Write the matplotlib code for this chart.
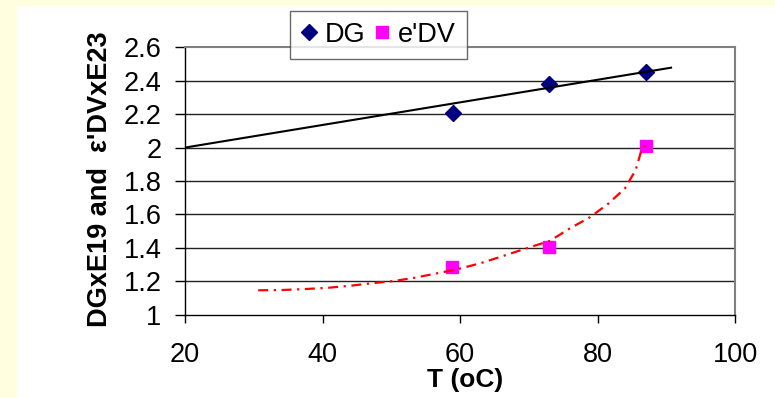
import matplotlib
matplotlib.use("Agg")
import matplotlib.pyplot as plt
from matplotlib.patches import Rectangle

# ---- data ----
T_dg = [59.0, 73.0, 87.1]
DG = [2.205, 2.382, 2.454]
T_edv = [58.8, 72.9, 87.0]
EDV = [1.287, 1.407, 2.01]

# trend lines as traced on the picture
trend_dg_T = [20.0, 90.7]
trend_dg_v = [2.0, 2.478]
trend_edv_T = [30.65, 34.3, 37.7, 40.8, 44.0, 47.1, 50.3, 53.4, 56.6, 59.5,
               62.9, 65.5, 70.4, 73.05, 76.0, 78.9, 81.5, 84.0, 85.55, 86.4, 86.9]
trend_edv_v = [1.146, 1.148, 1.154, 1.161, 1.173, 1.188, 1.201, 1.221, 1.247, 1.271,
               1.307, 1.341, 1.407, 1.441, 1.517, 1.583, 1.662, 1.756, 1.866, 1.985, 2.01]

x_ticks = [20, 40, 60, 80, 100]
x_labels = ["20", "40", "60", "80", "100"]
y_ticks = [1.0, 1.2, 1.4, 1.6, 1.8, 2.0, 2.2, 2.4, 2.6]
y_labels = ["1", "1.2", "1.4", "1.6", "1.8", "2", "2.2", "2.4", "2.6"]

plt.rcParams['font.family'] = ['Liberation Sans', 'DejaVu Sans']

W, H = 775, 398
fig = plt.figure(figsize=(W / 100, H / 100), dpi=100)
fig.patch.set_facecolor('white')
# light-yellow frame strips (left and top)
fig.add_artist(Rectangle((0, 0), 17 / W, 1, transform=fig.transFigure,
                         facecolor='#FFFFE0', edgecolor='none', zorder=0))
fig.add_artist(Rectangle((0, 1 - 6 / H), 1, 6 / H, transform=fig.transFigure,
                         facecolor='#FFFFE0', edgecolor='none', zorder=0))

ax = fig.add_axes([185 / W, 1 - 314.7 / H, (735 - 185) / W, (314.7 - 47.3) / H])
ax.set_facecolor('white')
ax.set_xlim(20, 100)
ax.set_ylim(1.0, 2.6)

for yv in y_ticks[1:-1]:
    ax.axhline(yv, color='#222222', lw=1.0, zorder=1)

ax.plot(T_dg, DG, linestyle='none', marker='D', markersize=8.5,
        color='#000080', label='DG', zorder=2)
ax.plot(T_edv, EDV, linestyle='none', marker='s', markersize=9,
        color='#FF00FF', label="e'DV", zorder=2)

ax.plot(trend_dg_T, trend_dg_v, color='black', lw=1.5, zorder=3)
ln, = ax.plot(trend_edv_T, trend_edv_v, color='#FF0000', lw=1.6, zorder=3)
ln.set_dashes((4.5, 2.5, 1.0, 2.5))

ax.set_xticks(x_ticks)
ax.set_xticklabels(x_labels)
ax.set_yticks(y_ticks)
ax.set_yticklabels(y_labels)
ax.tick_params(axis='y', direction='out', length=7, width=1, pad=10, labelsize=19.5)
ax.tick_params(axis='x', direction='out', length=6, width=1, pad=14, labelsize=19.5)

for s in ['left', 'bottom']:
    ax.spines[s].set_color('black')
    ax.spines[s].set_linewidth(1.0)
for s in ['top', 'right']:
    ax.spines[s].set_color('#808080')
    ax.spines[s].set_linewidth(1.5)

fig.text(465 / W, 1 - 380 / H, 'T (oC)', ha='center', va='center',
         fontsize=19, fontweight='bold')
fig.text(100 / W, 1 - 179 / H, "DGxE19 and  ε'DVxE23", ha='center', va='center',
         rotation=90, fontsize=19.5, fontweight='bold')

leg = fig.legend(loc='upper left', bbox_to_anchor=(290 / W, 1 - 11 / H),
                 ncol=2, frameon=True, fancybox=False, shadow=False,
                 fontsize=19.5, handlelength=0.6, handletextpad=0.3,
                 columnspacing=0.3, borderpad=0.4, borderaxespad=0)
leg.get_frame().set_edgecolor('#444444')
leg.get_frame().set_linewidth(1.0)
leg.set_zorder(10)

fig.savefig('out.png', dpi=100)
